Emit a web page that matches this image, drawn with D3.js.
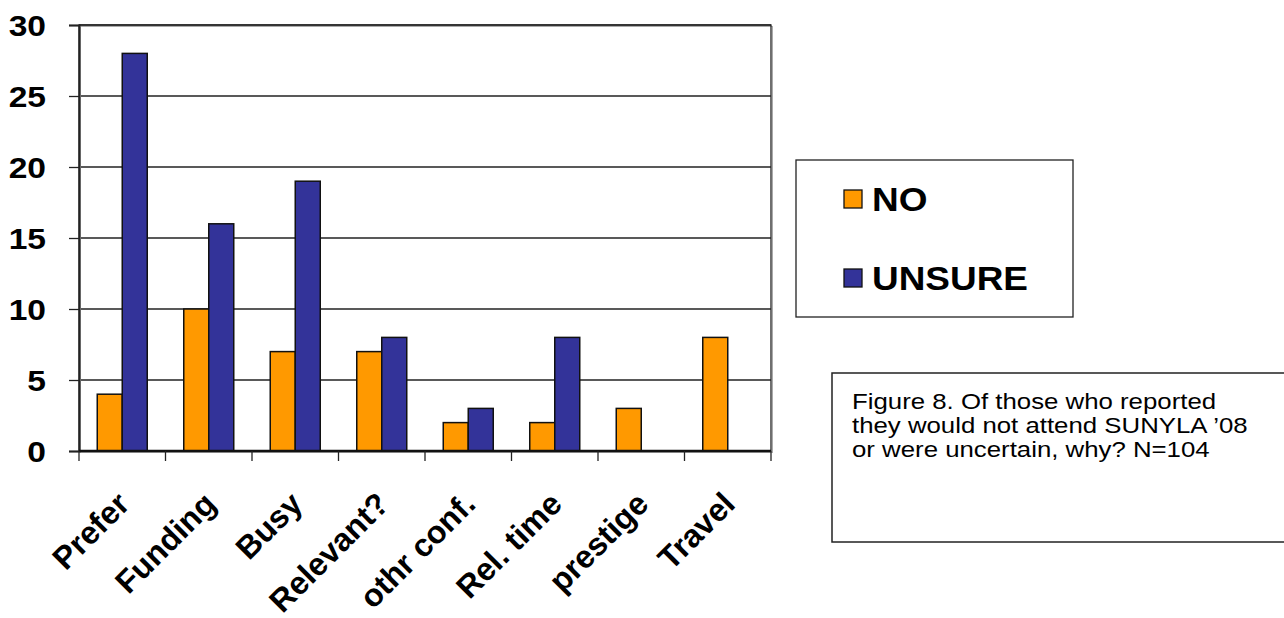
<!DOCTYPE html>
<html>
<head>
<meta charset="utf-8">
<script src="https://cdn.jsdelivr.net/npm/d3@7"></script>
<style>
    body { margin: 0; background: #fff; }
    svg { font-family: "Liberation Sans", Arial, sans-serif; display: block; }
</style>
</head>
<body>
<svg id="chart" width="1284" height="618"></svg>
<script>
var categories = ["Prefer", "Funding", "Busy", "Relevant?", "othr conf.", "Rel. time", "prestige", "Travel"];
var noValues = [4, 10, 7, 7, 2, 2, 3, 8];
var unsureValues = [28, 16, 19, 8, 3, 8, 0, 0];
var seriesNames = ["NO", "UNSURE"];
var yTicks = [0, 5, 10, 15, 20, 25, 30];
var caption = ["Figure 8. Of those who reported", "they would not attend SUNYLA \u201908", "or were uncertain, why? N=104"];

var colors = {NO: "#FF9900", UNSURE: "#333399"};
var svg = d3.select("#chart");
var plotLeft = 79, plotRight = 771, plotTop = 25, plotBottom = 451;

var x = d3.scaleBand().domain(categories).range([plotLeft, plotRight]);
var y = d3.scaleLinear().domain([0, 30]).range([plotBottom, plotTop]);
var bw = 25;

// gridlines
svg.append("g").selectAll("line").data(yTicks.slice(1)).join("line")
    .attr("x1", plotLeft).attr("x2", plotRight)
    .attr("y1", function(d){ return y(d); }).attr("y2", function(d){ return y(d); })
    .attr("stroke", "#222").attr("stroke-width", 1.3);

// frame (with light shadow)
svg.append("rect").attr("x", plotLeft + 1.5).attr("y", plotTop + 1.5)
    .attr("width", plotRight - plotLeft).attr("height", plotBottom - plotTop)
    .attr("fill", "none").attr("stroke", "#aaa").attr("stroke-width", 1);
svg.append("rect").attr("x", plotLeft).attr("y", plotTop)
    .attr("width", plotRight - plotLeft).attr("height", plotBottom - plotTop)
    .attr("fill", "none").attr("stroke", "#222").attr("stroke-width", 1.3);

// bars
[noValues, unsureValues].forEach(function(vals, si){
    var rows = categories.map(function(c, i){ return {cat: c, v: vals[i]}; })
        .filter(function(d){ return d.v > 0; });
    svg.append("g").selectAll("rect").data(rows).join("rect")
        .attr("x", function(d){ return x(d.cat) + x.bandwidth() / 2 - bw + si * bw; })
        .attr("y", function(d){ return y(d.v); })
        .attr("width", bw)
        .attr("height", function(d){ return plotBottom - y(d.v); })
        .attr("fill", colors[seriesNames[si]])
        .attr("stroke", "#111").attr("stroke-width", 1.5);
});

// y axis
var yAxis = d3.axisLeft(y).tickValues(yTicks).tickSize(10).tickPadding(0).tickFormat(function(d){ return d; });
var yg = svg.append("g").attr("transform", "translate(" + plotLeft + ",0)").call(yAxis);
yg.select(".domain").attr("stroke", "#222").attr("stroke-width", 2);
yg.selectAll(".tick line").attr("stroke", "#222").attr("stroke-width", 1.3);
yg.selectAll(".tick text")
    .attr("x", null).attr("dy", "0.36em")
    .attr("transform", "translate(-33,0) scale(1.12,1)")
    .attr("font-size", 30).attr("font-weight", "bold").attr("fill", "#000")
    .attr("font-family", "'Liberation Sans', Arial, sans-serif");

// x axis
var xTickPos = categories.map(function(c){ return x(c); }).concat([plotRight]);
svg.append("line").attr("x1", plotLeft).attr("x2", plotRight).attr("y1", plotBottom).attr("y2", plotBottom)
    .attr("stroke", "#111").attr("stroke-width", 2.5);
svg.append("g").selectAll("line").data(xTickPos).join("line")
    .attr("x1", function(d){ return d; }).attr("x2", function(d){ return d; })
    .attr("y1", plotBottom).attr("y2", plotBottom + 10)
    .attr("stroke", "#222").attr("stroke-width", 1.3);

svg.append("g").selectAll("text").data(categories).join("text")
    .attr("transform", function(d){
        return "translate(" + (x(d) + x.bandwidth() / 2 + 9) + "," + (plotBottom + 55) + ") rotate(-45)";
    })
    .attr("text-anchor", "end")
    .attr("font-size", 32).attr("font-weight", "bold")
    .text(function(d){ return d; });

// legend
svg.append("rect").attr("x", 796).attr("y", 160).attr("width", 277).attr("height", 157)
    .attr("fill", "#fff").attr("stroke", "#222").attr("stroke-width", 1.3);
var leg = svg.append("g").selectAll("g").data(seriesNames).join("g")
    .attr("transform", function(d, i){ return "translate(844," + (190 + i * 79) + ")"; });
leg.append("rect").attr("width", 18).attr("height", 18)
    .attr("fill", function(d){ return colors[d]; }).attr("stroke", "#111").attr("stroke-width", 1.3);
leg.append("text").attr("transform", "translate(28,9) scale(1.12,1)").attr("dy", "0.36em")
    .attr("font-size", 33).attr("font-weight", "bold").text(function(d){ return d; });

// caption box
svg.append("rect").attr("x", 832).attr("y", 373).attr("width", 470).attr("height", 169)
    .attr("fill", "#fff").attr("stroke", "#222").attr("stroke-width", 1.5);
svg.append("g").selectAll("text").data(caption).join("text")
    .attr("transform", function(d, i){ return "translate(852," + (409 + i * 24) + ") scale(1.2,1)"; })
    .attr("font-size", 21.5).attr("fill", "#000")
    .text(function(d){ return d; });
</script>
</body>
</html>
